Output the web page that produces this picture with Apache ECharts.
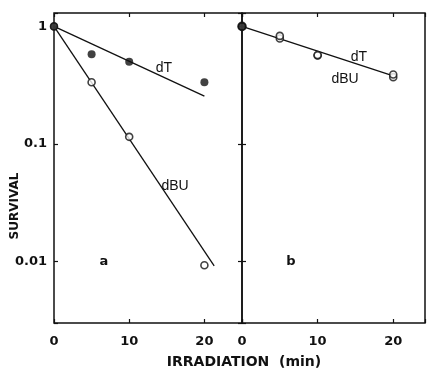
<!DOCTYPE html>
<html>
<head>
<meta charset="utf-8">
<script src="https://cdn.jsdelivr.net/npm/echarts@6/dist/echarts.min.js"></script>
<style>
  html, body { margin: 0; padding: 0; background: #fff; }
  #chart { width: 429px; height: 372px; }
</style>
</head>
<body>
<div id="chart"></div>
<script>
// irradiation times (min)
const minutes = [0, 5, 10, 20]
// panel a
const dT_a = [1, 0.58, 0.5, 0.335]
const dBU_a = [1, 0.335, 0.115, 0.0093]
const fitT_a = [[0, 1], [20, 0.255]]
const fitBU_a = [[0, 1], [21.3, 0.0092]]
// panel b
const dT_b = [1, 0.83, 0.57, 0.39]
const dBU_b = [1, 0.79, 0.565, 0.37]
const fit_b = [[0, 1], [20, 0.38]]
const xTicks = [0, 10, 20]
const yTicks = { 1: '1', 0.1: '0.1', 0.01: '0.01' }

const ink = '#111'
const font = '"Liberation Sans", Arial, sans-serif'
const boldFont = '"DejaVu Sans", sans-serif'

function pts(vals) {
  return minutes.map((m, i) => [m, vals[i]])
}
function yLabel(v) {
  for (const k in yTicks) {
    if (Math.abs(Math.log10(v) - Math.log10(+k)) < 0.01) return yTicks[k]
  }
  return ''
}

const chart = echarts.init(document.getElementById('chart'))

function xAx(grid, max, pos, showLabel) {
  return {
    type: 'value', gridIndex: grid, min: 0, max: max, interval: 10, position: pos,
    axisLine: { show: false },
    axisTick: { show: true, inside: true, length: 4, lineStyle: { color: ink, width: 1.2 } },
    axisLabel: {
      show: showLabel, color: ink, fontFamily: boldFont, fontWeight: 'bold', fontSize: 13, margin: 12,
      formatter: v => (xTicks.indexOf(v) >= 0 ? String(v) : '')
    },
    splitLine: { show: false }
  }
}
function yAx(grid, pos, showLabel) {
  return {
    type: 'log', logBase: 10, gridIndex: grid, min: 0.003, max: 1.3, position: pos,
    axisLine: { show: false },
    axisTick: { show: true, inside: true, length: 4, lineStyle: { color: ink, width: 1.2 } },
    axisLabel: {
      show: showLabel, color: ink, fontFamily: boldFont, fontWeight: 'bold', fontSize: 13, margin: 7,
      formatter: yLabel
    },
    splitLine: { show: false }
  }
}

const filled = { color: ink }
const hollow = { color: '#fff', borderColor: ink, borderWidth: 1.6 }
const lineSt = { color: ink, width: 1.3 }

const option = {
  backgroundColor: '#fff',
  animation: false,
  grid: [
    { left: 54, top: 13, width: 188, height: 310, show: true, borderColor: ink, borderWidth: 1.5, backgroundColor: 'transparent' },
    { left: 242, top: 13, width: 183, height: 310, show: true, borderColor: ink, borderWidth: 1.5, backgroundColor: 'transparent' }
  ],
  xAxis: [
    xAx(0, 25, 'bottom', true),
    xAx(0, 25, 'top', false),
    xAx(1, 24.2, 'bottom', true),
    xAx(1, 24.2, 'top', false)
  ],
  yAxis: [
    yAx(0, 'left', true),
    yAx(1, 'left', false),
    yAx(1, 'right', false)
  ],
  series: [
    { type: 'line', xAxisIndex: 0, yAxisIndex: 0, data: fitT_a, showSymbol: false, lineStyle: lineSt, z: 1 },
    { type: 'line', xAxisIndex: 0, yAxisIndex: 0, data: fitBU_a, showSymbol: false, lineStyle: lineSt, z: 1 },
    { type: 'line', xAxisIndex: 2, yAxisIndex: 1, data: fit_b, showSymbol: false, lineStyle: lineSt, z: 1 },
    { type: 'scatter', xAxisIndex: 0, yAxisIndex: 0, data: pts(dBU_a), symbol: 'circle', symbolSize: 7, itemStyle: hollow, z: 3 },
    { type: 'scatter', xAxisIndex: 0, yAxisIndex: 0, data: pts(dT_a), symbol: 'circle', symbolSize: 8, itemStyle: filled, z: 4 },
    { type: 'scatter', xAxisIndex: 2, yAxisIndex: 1, data: pts(dBU_b), symbol: 'circle', symbolSize: 7, itemStyle: hollow, z: 3 },
    {
      type: 'scatter', xAxisIndex: 2, yAxisIndex: 1, symbol: 'circle', symbolSize: 7, itemStyle: hollow, z: 4,
      data: pts(dT_b).map((p, i) => (i === 0 ? { value: p, symbolSize: 8, itemStyle: filled } : p))
    }
  ],
  graphic: [
    { type: 'text', x: 164, y: 68, style: { text: 'dT', font: '14px ' + font, fill: ink, textAlign: 'center', textVerticalAlign: 'middle' } },
    { type: 'text', x: 175, y: 186, style: { text: 'dBU', font: '14px ' + font, fill: ink, textAlign: 'center', textVerticalAlign: 'middle' } },
    { type: 'text', x: 104, y: 262, style: { text: 'a', font: 'bold 13px ' + boldFont, fill: ink, textAlign: 'center', textVerticalAlign: 'middle' } },
    { type: 'text', x: 291, y: 262, style: { text: 'b', font: 'bold 13px ' + boldFont, fill: ink, textAlign: 'center', textVerticalAlign: 'middle' } },
    { type: 'text', x: 359, y: 57, style: { text: 'dT', font: '14px ' + font, fill: ink, textAlign: 'center', textVerticalAlign: 'middle' } },
    { type: 'text', x: 345, y: 79, style: { text: 'dBU', font: '14px ' + font, fill: ink, textAlign: 'center', textVerticalAlign: 'middle' } },
    { type: 'text', x: 15, y: 206, rotation: Math.PI / 2, style: { text: 'SURVIVAL', font: 'bold 12px ' + boldFont, fill: ink, textAlign: 'center', textVerticalAlign: 'middle' } },
    { type: 'text', x: 244, y: 362, style: { text: 'IRRADIATION  (min)', font: 'bold 14px ' + boldFont, fill: ink, textAlign: 'center', textVerticalAlign: 'middle' } }
  ]
}

chart.setOption(option)
</script>
</body>
</html>
